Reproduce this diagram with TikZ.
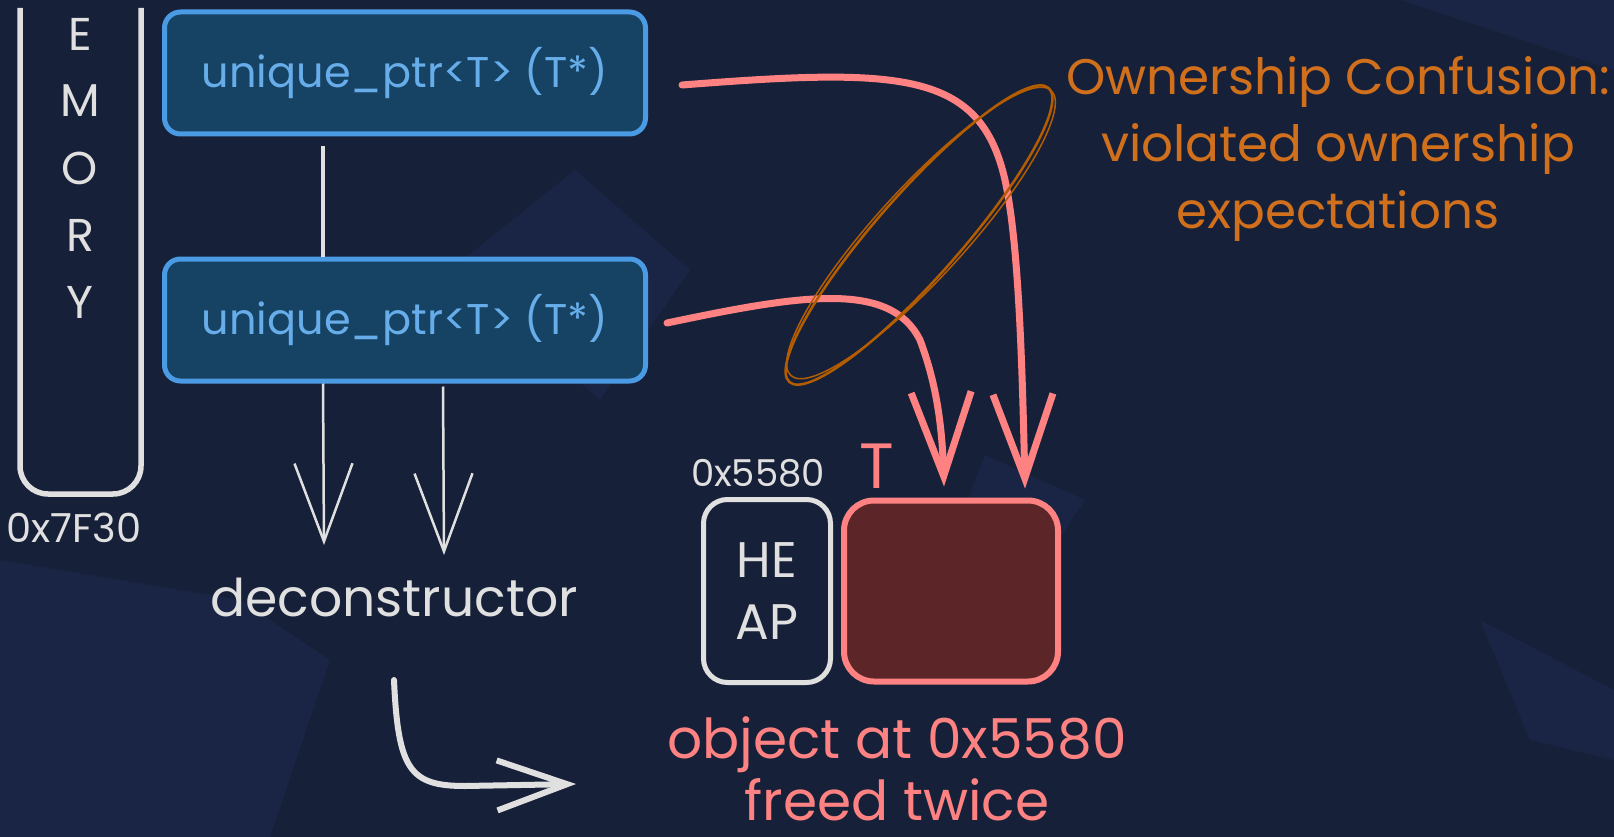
\documentclass[tikz,border=0pt]{standalone}
\usepackage{fontspec}
\setmainfont{Poppins}
\usetikzlibrary{positioning,arrows.meta}
\definecolor{bgnavy}{HTML}{172039}
\definecolor{ghost}{HTML}{1A2545}
\definecolor{ptrfill}{HTML}{164263}
\definecolor{ptrline}{HTML}{4A9BE3}
\definecolor{ptrtext}{HTML}{67ADEA}
\definecolor{chalk}{HTML}{E0E0E0}
\definecolor{hotpink}{HTML}{FF8282}
\definecolor{freedfill}{HTML}{5C2628}
\definecolor{rust}{HTML}{D0701C}
\definecolor{rustdark}{HTML}{B35C00}
\begin{document}
\begin{tikzpicture}[x=1pt,y=-1pt,
    ptrbox/.style={draw=ptrline,line width=5pt,fill=ptrfill,rounded corners=16pt,
      minimum width=481pt,minimum height=122pt,text=ptrtext,font=\fontsize{43}{46}\selectfont},
    heapbox/.style={draw=chalk,line width=5pt,rounded corners=24pt,minimum width=127pt,
      minimum height=183pt,text=chalk,align=center,font=\fontsize{50}{62}\selectfont},
    objbox/.style={draw=hotpink,line width=6pt,fill=freedfill,rounded corners=30pt,
      minimum width=214pt,minimum height=181pt},
    memletter/.style={text=chalk,font=\fontsize{46}{46}\selectfont},
    addr/.style={text=chalk,font=\fontsize{37}{37}\selectfont},
    chalktext/.style={text=chalk,font=\fontsize{52}{52}\selectfont},
    pinktext/.style={text=hotpink,align=center,inner sep=0pt,font=\fontsize{55}{62}\selectfont},
    rusttext/.style={text=rust,align=center,font=\fontsize{50}{67}\selectfont},
    chalkline/.style={draw=chalk,line width=2.5pt},
    thinarrow/.style={chalkline,-{Straight Barb[length=78pt,width=58pt]}},
    bentarrow/.style={draw=chalk,line width=6pt,line cap=round,-{Straight Barb[length=70pt,width=50pt]}},
    pinkarrow/.style={draw=hotpink,line width=7pt,line cap=round,-{Straight Barb[length=84pt,width=60pt]}},
    ring/.style={draw=rustdark,line width=2.5pt}]
  \useasboundingbox (0,0) rectangle (1614,837);
  \clip (0,0) rectangle (1614,837);
  \fill[bgnavy] (0,0) rectangle (1614,837);
  \fill[ghost] (575,170) -- (690,270) -- (600,400) -- (450,270) -- cycle;
  \fill[ghost] (0,560) -- (240,600) -- (330,660) -- (270,837) -- (0,837) -- cycle;
  \fill[ghost] (985,455) -- (1085,500) -- (1045,560) -- (960,520) -- cycle;
  \fill[ghost] (1480,620) -- (1614,690) -- (1614,760) -- (1530,740) -- cycle;
  \fill[ghost] (1400,0) -- (1614,0) -- (1614,70) -- cycle;

  \draw[chalkline,line width=5.5pt,rounded corners=28pt] (20,8) -- (20,494) -- (141,494) -- (141,8);
  \path (80,34) node[memletter] (mE) {E};
  \path node[memletter,below of=mE,node distance=67pt] (mM) {M};
  \path node[memletter,below of=mM,node distance=67pt] (mO) {O};
  \path node[memletter,below of=mO,node distance=67pt] (mR) {R};
  \path node[memletter,below of=mR,node distance=67pt] (mY) {Y};
  \path (74,528) node[addr,font=\fontsize{40}{40}\selectfont] (StackAddr) {0x7F30};

  \path (405,73) node[ptrbox] (P1) {unique\_ptr<T> (T*)};
  \path node[ptrbox,below=120pt of P1] (P2) {unique\_ptr<T> (T*)};
  \path (394,597) node[chalktext] (Dec) {deconstructor};
  \coordinate (FreeEnd) at (576,784);

  \path (951,591) node[objbox] (Obj) {};
  \path node[heapbox,left=8pt of Obj] (Heap) {HE\\AP};
  \path (758,473) node[addr] (HeapAddr) {0x5580};
  \path (877,466) node[text=hotpink,font=\fontsize{64}{64}\selectfont] (TLabel) {T};

  \path (1338,149) node[rusttext] (Conf) {Ownership Confusion:\\violated ownership\\expectations};
  \path (897,769) node[pinktext] (Freed) {object at 0x5580\\freed twice};

  \draw[chalkline,line width=3.5pt] ([xshift=-82pt,yshift=-10pt]P1.south) -- ([xshift=-82pt]P2.north);
  \draw[thinarrow] ([xshift=-82pt]P2.south) -- ([xshift=-70pt,yshift=29pt]Dec.north);
  \draw[thinarrow] ([xshift=38pt,yshift=-3pt]P2.south) -- ([xshift=50pt,yshift=19pt]Dec.north);
  \draw[bentarrow] ([yshift=-60pt]Dec.south) .. controls (398,770) and (410,786) .. (465,786) -- (FreeEnd);

  \draw[pinkarrow] ([xshift=34pt,yshift=-12pt]P1.east) .. controls (900,68) and (980,70) .. (1005,180)
    .. controls (1018,240) and (1022,350) .. ([xshift=74pt,yshift=9pt]Obj.north);
  \draw[pinkarrow] ([xshift=19pt,yshift=-3pt]P2.east) .. controls (800,295) and (890,280) .. (920,340)
    .. controls (935,380) and (942,420) .. ([xshift=-7pt,yshift=11pt]Obj.north);

  \draw[ring,rotate around={48.6:(919,235)}] (919,235) ellipse [x radius=196pt,y radius=42pt];
  \draw[ring,line width=1.5pt,rotate around={47.6:(921,233)}] (921,233) ellipse [x radius=193pt,y radius=45pt];
\end{tikzpicture}
\end{document}
